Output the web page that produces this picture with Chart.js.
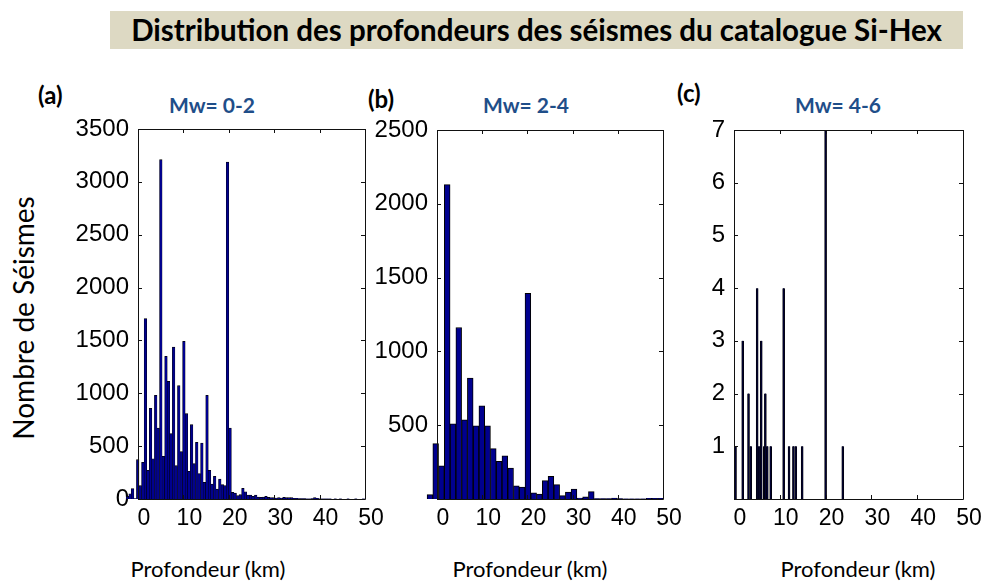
<!DOCTYPE html>
<html>
<head>
<meta charset="utf-8">
<script src="https://cdn.jsdelivr.net/npm/chart.js@4.4.1/dist/chart.umd.min.js"></script>
<style>
  html, body { margin: 0; padding: 0; background: #fff; }
  #page { position: relative; width: 985px; height: 587px; overflow: hidden; background: #fff; }
  canvas { position: absolute; left: 0; top: 0; }
  .txt { position: absolute; white-space: nowrap; }
  #banner { position: absolute; left: 110px; top: 11px; width: 853px; height: 38px; background: #DDD9C3;
            font: bold 29.5px Lato, sans-serif; color: #000; text-align: center; line-height: 38px; }
  .plab { font: bold 24px Lato, sans-serif; color: #000; }
  .mw { font: bold 21px Lato, sans-serif; color: #1F4E89; transform: translateX(-50%); }
  .xt { font: 22px Lato, sans-serif; color: #000; transform: translateX(-50%); }
  #ytitle { font: 28px Lato, sans-serif; color: #000; left: 23px; top: 318px; transform: translate(-50%, -50%) rotate(-90deg); }
</style>
</head>
<body>
<div id="page">
  <div id="banner">Distribution des profondeurs des séismes du catalogue Si-Hex</div>
  <div class="txt plab" style="left:38px; top:80px;">(a)</div>
  <div class="txt plab" style="left:368px; top:84px;">(b)</div>
  <div class="txt plab" style="left:677px; top:78px;">(c)</div>
  <div class="txt mw" style="left:212px; top:92px;">Mw= 0-2</div>
  <div class="txt mw" style="left:526px; top:92px;">Mw= 2-4</div>
  <div class="txt mw" style="left:838px; top:92px;">Mw= 4-6</div>
  <div class="txt xt" style="left:208px; top:555px;">Profondeur (km)</div>
  <div class="txt xt" style="left:530px; top:555px;">Profondeur (km)</div>
  <div class="txt xt" style="left:858px; top:555px;">Profondeur (km)</div>
  <div class="txt" id="ytitle">Nombre de Séismes</div>
  <canvas id="ca" width="985" height="587"></canvas>
  <canvas id="cb" width="985" height="587"></canvas>
  <canvas id="cc" width="985" height="587"></canvas>
</div>
<script>
// ---------- data ----------
// Panel (a): Mw 0-2, histogram bin centres (km) and counts
const depthA = [-2.32,-1.75,-1.19,-0.62,-0.06,0.51,1.07,1.64,2.20,2.77,3.33,3.90,4.46,5.03,5.59,6.16,6.72,7.29,7.85,8.42,
  8.98,9.55,10.11,10.68,11.24,11.81,12.37,12.94,13.50,14.07,14.63,15.20,15.76,16.33,16.89,17.46,18.02,18.59,19.15,19.72,
  20.28,20.85,21.41,21.98,22.54,23.11,23.67,24.24,24.80,25.37,25.93,26.50,27.06,27.63,28.19,28.76,29.32,29.89,30.45,31.02,
  31.58,32.15,32.71,33.28,33.84,34.41,34.97,35.54,36.10,36.67,37.23,37.80,38.36,38.93,39.49,40.06,40.62,41.19,41.75,42.32,
  42.88,43.45,44.01,44.58,45.14,45.71,46.27,46.84,47.40,47.97,48.53,49.10,49.66];
const countA = [25,50,98,5,372,126,347,1706,271,858,381,981,672,3210,403,1350,1113,618,1438,315,
  1072,448,1491,807,262,703,334,536,240,530,158,981,271,142,214,95,189,136,126,3188,
  672,63,57,32,41,101,69,38,38,25,38,19,16,19,25,16,13,13,9,13,
  9,16,13,13,13,6,6,3,3,3,2,2,4,13,6,2,1,1,1,1,
  0,1,0,1,0,0,1,0,0,1,0,0,1];
// Panel (b): Mw 2-4
const depthB = [-1.56,-0.29,0.99,2.26,3.54,4.81,6.09,7.36,8.64,9.91,11.19,12.46,13.74,15.01,16.29,17.56,18.84,20.11,21.39,22.66,
  23.94,25.21,26.49,27.76,29.04,30.31,31.59,32.86,34.14,35.41,36.69,37.96,39.24,40.51,41.79,43.06,44.34,45.61,46.89,48.16,49.44];
const countB = [30,375,225,2130,510,1162,537,819,496,632,496,341,255,293,210,90,81,1394,41,34,
  124,153,97,23,47,68,7,14,50,3,2,2,6,2,1,1,1,1,4,5,5];
// Panel (c): Mw 4-6
const depthC = [0.33,1.9,3.17,3.66,5.06,5.47,5.95,6.6,6.85,7.27,8.01,10.84,12.02,12.98,13.49,14.89,20.0,23.75];
const countC = [1,3,2,1,4,1,3,1,2,1,1,4,1,1,1,1,7,1];
// axis ticks
const xTicks = [0, 10, 20, 30, 40, 50];
const yMaxA = 3500, yStepA = 500;
const yMaxB = 2500, yStepB = 500;
const yMaxC = 7, yStepC = 1;

// ---------- drawing ----------
const W = 985, H = 587;
const Y_AXIS_W = 70, X_AXIS_H = 40;

const boxPlugin = {
  id: 'matlabBox',
  afterDatasetsDraw(chart) {
    const { ctx, chartArea: a, scales: { x, y } } = chart;
    const r = v => Math.round(v) + 0.5;
    ctx.save();
    ctx.strokeStyle = '#111';
    ctx.lineWidth = 1;
    ctx.beginPath();
    ctx.rect(r(a.left), r(a.top), Math.round(a.right) - Math.round(a.left), Math.round(a.bottom) - Math.round(a.top));
    const tl = 4;
    x.ticks.forEach(t => {
      const px = r(x.getPixelForValue(t.value));
      ctx.moveTo(px, a.bottom); ctx.lineTo(px, a.bottom - tl);
      ctx.moveTo(px, a.top); ctx.lineTo(px, a.top + tl);
    });
    y.ticks.forEach(t => {
      const py = r(y.getPixelForValue(t.value));
      ctx.moveTo(a.left, py); ctx.lineTo(a.left + tl, py);
      ctx.moveTo(a.right, py); ctx.lineTo(a.right - tl, py);
    });
    ctx.stroke();
    ctx.restore();
  }
};

function makeChart(id, area, xs, ys, yMax, yStep, barOpts, hideZero) {
  const data = xs.map((x, i) => ({ x: x, y: ys[i] }));
  return new Chart(document.getElementById(id), {
    type: 'bar',
    data: {
      datasets: [Object.assign({
        data: data,
        backgroundColor: '#00008F',
        borderColor: '#000000',
        borderSkipped: 'bottom',
        barPercentage: 1.0,
        categoryPercentage: 1.0,
        clip: false
      }, barOpts)]
    },
    plugins: [boxPlugin],
    options: {
      responsive: false,
      animation: false,
      devicePixelRatio: 1,
      layout: {
        padding: {
          left: area.left - Y_AXIS_W,
          right: W - area.right,
          top: area.top,
          bottom: H - area.bottom - X_AXIS_H
        }
      },
      plugins: { legend: { display: false }, tooltip: { enabled: false }, title: { display: false } },
      scales: {
        x: {
          type: 'linear',
          min: 0, max: 50,
          offset: false,
          afterBuildTicks: s => { s.ticks = xTicks.map(v => ({ value: v })); },
          afterFit: s => { s.height = X_AXIS_H; },
          grid: { display: false, drawTicks: false },
          border: { display: false },
          ticks: {
            font: { family: 'Liberation Sans', size: 23 },
            color: '#000',
            padding: 6,
            labelOffset: 6,
            maxRotation: 0,
            autoSkip: false
          }
        },
        y: {
          type: 'linear',
          min: 0, max: yMax,
          afterFit: s => { s.width = Y_AXIS_W; },
          grid: { display: false, drawTicks: false },
          border: { display: false },
          ticks: {
            stepSize: yStep,
            font: { family: 'Liberation Sans', size: 24 },
            color: '#000',
            padding: 9,
            callback: v => (hideZero && v === 0) ? '' : String(v)
          }
        }
      }
    }
  });
}

makeChart('ca', { left: 138, right: 365, top: 129, bottom: 499 }, depthA, countA, yMaxA, yStepA,
  { borderWidth: { left: 0.5, right: 0.5, top: 0.8, bottom: 0 } }, false);
makeChart('cb', { left: 437, right: 663, top: 130, bottom: 499 }, depthB, countB, yMaxB, yStepB,
  { borderWidth: { left: 1, right: 1, top: 1, bottom: 0 } }, true);
makeChart('cc', { left: 734, right: 963, top: 130, bottom: 499 }, depthC, countC, yMaxC, yStepC,
  { backgroundColor: '#000033', borderWidth: { left: 0.7, right: 0.7, top: 0, bottom: 0 }, barThickness: 2 }, true);
</script>
</body>
</html>
